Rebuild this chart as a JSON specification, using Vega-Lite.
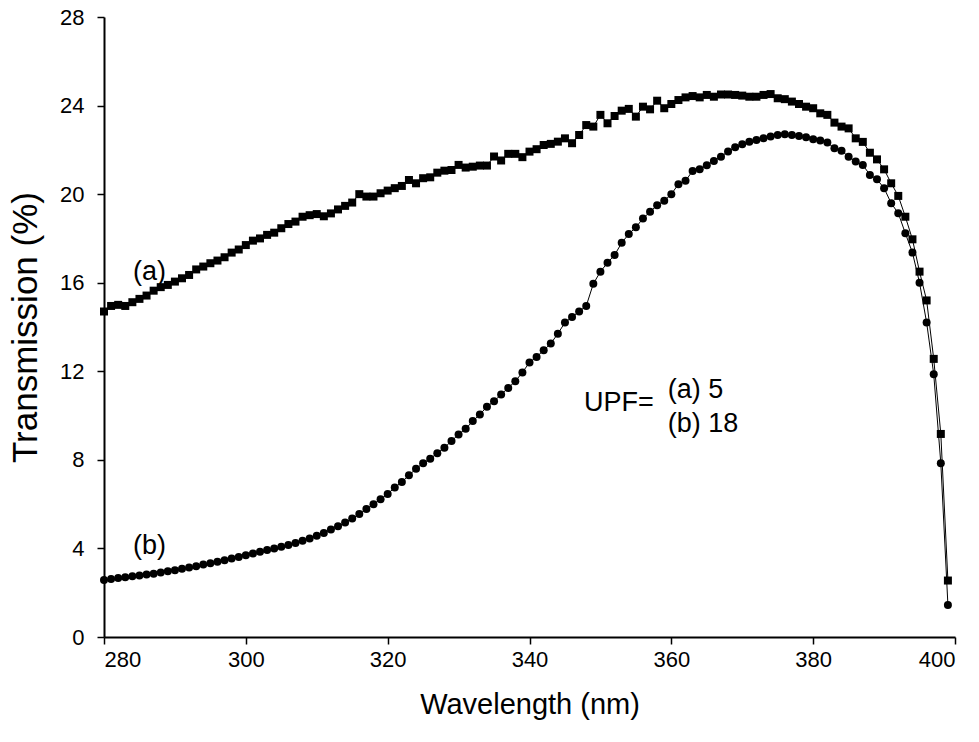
{
  "$schema": "https://vega.github.io/schema/vega-lite/v6.json",
  "width": 851,
  "height": 620,
  "autosize": {"type": "none"},
  "padding": {"left": 104, "top": 17, "right": 24, "bottom": 105},
  "background": "white",
  "config": {
    "view": {"stroke": null},
    "font": "Liberation Sans",
    "axis": {
      "grid": false,
      "domainColor": "black",
      "domainWidth": 2,
      "tickColor": "black",
      "tickWidth": 1.5,
      "tickSize": 7,
      "labelFont": "Liberation Sans",
      "labelFontSize": 22,
      "labelColor": "black",
      "titleFont": "Liberation Sans",
      "titleFontWeight": "normal",
      "titleColor": "black"
    }
  },
  "datasets": {
    "spectra": [
      {"sample":"a","wl":280,"t":14.7},{"sample":"a","wl":281,"t":14.95},{"sample":"a","wl":282,"t":15.0},{"sample":"a","wl":283,"t":14.95},{"sample":"a","wl":284,"t":15.12},{"sample":"a","wl":285,"t":15.27},{"sample":"a","wl":286,"t":15.42},{"sample":"a","wl":287,"t":15.64},{"sample":"a","wl":288,"t":15.8},{"sample":"a","wl":289,"t":15.9},
      {"sample":"a","wl":290,"t":16.05},{"sample":"a","wl":291,"t":16.2},{"sample":"a","wl":292,"t":16.35},{"sample":"a","wl":293,"t":16.6},{"sample":"a","wl":294,"t":16.73},{"sample":"a","wl":295,"t":16.88},{"sample":"a","wl":296,"t":17.0},{"sample":"a","wl":297,"t":17.15},{"sample":"a","wl":298,"t":17.36},{"sample":"a","wl":299,"t":17.5},
      {"sample":"a","wl":300,"t":17.7},{"sample":"a","wl":301,"t":17.9},{"sample":"a","wl":302,"t":18.0},{"sample":"a","wl":303,"t":18.16},{"sample":"a","wl":304,"t":18.26},{"sample":"a","wl":305,"t":18.46},{"sample":"a","wl":306,"t":18.65},{"sample":"a","wl":307,"t":18.76},{"sample":"a","wl":308,"t":18.98},{"sample":"a","wl":309,"t":19.05},
      {"sample":"a","wl":310,"t":19.1},{"sample":"a","wl":311,"t":19.0},{"sample":"a","wl":312,"t":19.13},{"sample":"a","wl":313,"t":19.31},{"sample":"a","wl":314,"t":19.47},{"sample":"a","wl":315,"t":19.62},{"sample":"a","wl":316,"t":20.0},{"sample":"a","wl":317,"t":19.89},{"sample":"a","wl":318,"t":19.89},{"sample":"a","wl":319,"t":20.04},
      {"sample":"a","wl":320,"t":20.16},{"sample":"a","wl":321,"t":20.27},{"sample":"a","wl":322,"t":20.37},{"sample":"a","wl":323,"t":20.64},{"sample":"a","wl":324,"t":20.49},{"sample":"a","wl":325,"t":20.72},{"sample":"a","wl":326,"t":20.76},{"sample":"a","wl":327,"t":20.97},{"sample":"a","wl":328,"t":21.06},{"sample":"a","wl":329,"t":21.09},
      {"sample":"a","wl":330,"t":21.32},{"sample":"a","wl":331,"t":21.2},{"sample":"a","wl":332,"t":21.24},{"sample":"a","wl":333,"t":21.29},{"sample":"a","wl":334,"t":21.29},{"sample":"a","wl":335,"t":21.7},{"sample":"a","wl":336,"t":21.52},{"sample":"a","wl":337,"t":21.82},{"sample":"a","wl":338,"t":21.82},{"sample":"a","wl":339,"t":21.67},
      {"sample":"a","wl":340,"t":21.92},{"sample":"a","wl":341,"t":22.03},{"sample":"a","wl":342,"t":22.22},{"sample":"a","wl":343,"t":22.27},{"sample":"a","wl":344,"t":22.37},{"sample":"a","wl":345,"t":22.52},{"sample":"a","wl":346,"t":22.3},{"sample":"a","wl":347,"t":22.67},{"sample":"a","wl":348,"t":23.12},{"sample":"a","wl":349,"t":23.05},
      {"sample":"a","wl":350,"t":23.58},{"sample":"a","wl":351,"t":23.2},{"sample":"a","wl":352,"t":23.53},{"sample":"a","wl":353,"t":23.77},{"sample":"a","wl":354,"t":23.85},{"sample":"a","wl":355,"t":23.5},{"sample":"a","wl":356,"t":23.95},{"sample":"a","wl":357,"t":23.83},{"sample":"a","wl":358,"t":24.22},{"sample":"a","wl":359,"t":23.88},
      {"sample":"a","wl":360,"t":24.07},{"sample":"a","wl":361,"t":24.25},{"sample":"a","wl":362,"t":24.37},{"sample":"a","wl":363,"t":24.43},{"sample":"a","wl":364,"t":24.37},{"sample":"a","wl":365,"t":24.48},{"sample":"a","wl":366,"t":24.4},{"sample":"a","wl":367,"t":24.5},{"sample":"a","wl":368,"t":24.5},{"sample":"a","wl":369,"t":24.48},
      {"sample":"a","wl":370,"t":24.45},{"sample":"a","wl":371,"t":24.4},{"sample":"a","wl":372,"t":24.4},{"sample":"a","wl":373,"t":24.48},{"sample":"a","wl":374,"t":24.52},{"sample":"a","wl":375,"t":24.33},{"sample":"a","wl":376,"t":24.29},{"sample":"a","wl":377,"t":24.18},{"sample":"a","wl":378,"t":24.07},{"sample":"a","wl":379,"t":23.95},
      {"sample":"a","wl":380,"t":23.88},{"sample":"a","wl":381,"t":23.65},{"sample":"a","wl":382,"t":23.58},{"sample":"a","wl":383,"t":23.23},{"sample":"a","wl":384,"t":23.05},{"sample":"a","wl":385,"t":22.97},{"sample":"a","wl":386,"t":22.52},{"sample":"a","wl":387,"t":22.36},{"sample":"a","wl":388,"t":21.87},{"sample":"a","wl":389,"t":21.57},
      {"sample":"a","wl":390,"t":21.12},{"sample":"a","wl":391,"t":20.49},{"sample":"a","wl":392,"t":19.92},{"sample":"a","wl":393,"t":18.98},{"sample":"a","wl":394,"t":17.96},{"sample":"a","wl":395,"t":16.5},{"sample":"a","wl":396,"t":15.2},{"sample":"a","wl":397,"t":12.56},{"sample":"a","wl":398,"t":9.17},{"sample":"a","wl":399,"t":2.55},
      {"sample":"b","wl":280,"t":2.57},{"sample":"b","wl":281,"t":2.62},{"sample":"b","wl":282,"t":2.66},{"sample":"b","wl":283,"t":2.7},{"sample":"b","wl":284,"t":2.74},{"sample":"b","wl":285,"t":2.78},{"sample":"b","wl":286,"t":2.82},{"sample":"b","wl":287,"t":2.86},{"sample":"b","wl":288,"t":2.91},{"sample":"b","wl":289,"t":2.97},
      {"sample":"b","wl":290,"t":3.02},{"sample":"b","wl":291,"t":3.08},{"sample":"b","wl":292,"t":3.14},{"sample":"b","wl":293,"t":3.2},{"sample":"b","wl":294,"t":3.27},{"sample":"b","wl":295,"t":3.33},{"sample":"b","wl":296,"t":3.4},{"sample":"b","wl":297,"t":3.47},{"sample":"b","wl":298,"t":3.54},{"sample":"b","wl":299,"t":3.61},
      {"sample":"b","wl":300,"t":3.69},{"sample":"b","wl":301,"t":3.77},{"sample":"b","wl":302,"t":3.85},{"sample":"b","wl":303,"t":3.93},{"sample":"b","wl":304,"t":4.0},{"sample":"b","wl":305,"t":4.08},{"sample":"b","wl":306,"t":4.16},{"sample":"b","wl":307,"t":4.25},{"sample":"b","wl":308,"t":4.35},{"sample":"b","wl":309,"t":4.45},
      {"sample":"b","wl":310,"t":4.57},{"sample":"b","wl":311,"t":4.7},{"sample":"b","wl":312,"t":4.85},{"sample":"b","wl":313,"t":5.0},{"sample":"b","wl":314,"t":5.17},{"sample":"b","wl":315,"t":5.35},{"sample":"b","wl":316,"t":5.55},{"sample":"b","wl":317,"t":5.78},{"sample":"b","wl":318,"t":6.0},{"sample":"b","wl":319,"t":6.22},
      {"sample":"b","wl":320,"t":6.46},{"sample":"b","wl":321,"t":6.75},{"sample":"b","wl":322,"t":7.0},{"sample":"b","wl":323,"t":7.3},{"sample":"b","wl":324,"t":7.6},{"sample":"b","wl":325,"t":7.85},{"sample":"b","wl":326,"t":8.05},{"sample":"b","wl":327,"t":8.3},{"sample":"b","wl":328,"t":8.55},{"sample":"b","wl":329,"t":8.85},
      {"sample":"b","wl":330,"t":9.15},{"sample":"b","wl":331,"t":9.4},{"sample":"b","wl":332,"t":9.75},{"sample":"b","wl":333,"t":10.05},{"sample":"b","wl":334,"t":10.4},{"sample":"b","wl":335,"t":10.65},{"sample":"b","wl":336,"t":10.95},{"sample":"b","wl":337,"t":11.25},{"sample":"b","wl":338,"t":11.55},{"sample":"b","wl":339,"t":11.95},
      {"sample":"b","wl":340,"t":12.4},{"sample":"b","wl":341,"t":12.65},{"sample":"b","wl":342,"t":12.95},{"sample":"b","wl":343,"t":13.25},{"sample":"b","wl":344,"t":13.7},{"sample":"b","wl":345,"t":14.2},{"sample":"b","wl":346,"t":14.45},{"sample":"b","wl":347,"t":14.7},{"sample":"b","wl":348,"t":14.95},{"sample":"b","wl":349,"t":15.95},
      {"sample":"b","wl":350,"t":16.5},{"sample":"b","wl":351,"t":16.9},{"sample":"b","wl":352,"t":17.25},{"sample":"b","wl":353,"t":17.8},{"sample":"b","wl":354,"t":18.2},{"sample":"b","wl":355,"t":18.5},{"sample":"b","wl":356,"t":18.9},{"sample":"b","wl":357,"t":19.2},{"sample":"b","wl":358,"t":19.5},{"sample":"b","wl":359,"t":19.7},
      {"sample":"b","wl":360,"t":20.0},{"sample":"b","wl":361,"t":20.45},{"sample":"b","wl":362,"t":20.6},{"sample":"b","wl":363,"t":21.05},{"sample":"b","wl":364,"t":21.12},{"sample":"b","wl":365,"t":21.3},{"sample":"b","wl":366,"t":21.5},{"sample":"b","wl":367,"t":21.69},{"sample":"b","wl":368,"t":21.93},{"sample":"b","wl":369,"t":22.12},
      {"sample":"b","wl":370,"t":22.25},{"sample":"b","wl":371,"t":22.37},{"sample":"b","wl":372,"t":22.45},{"sample":"b","wl":373,"t":22.52},{"sample":"b","wl":374,"t":22.6},{"sample":"b","wl":375,"t":22.67},{"sample":"b","wl":376,"t":22.7},{"sample":"b","wl":377,"t":22.67},{"sample":"b","wl":378,"t":22.63},{"sample":"b","wl":379,"t":22.57},
      {"sample":"b","wl":380,"t":22.48},{"sample":"b","wl":381,"t":22.42},{"sample":"b","wl":382,"t":22.33},{"sample":"b","wl":383,"t":22.07},{"sample":"b","wl":384,"t":21.96},{"sample":"b","wl":385,"t":21.69},{"sample":"b","wl":386,"t":21.47},{"sample":"b","wl":387,"t":21.32},{"sample":"b","wl":388,"t":20.87},{"sample":"b","wl":389,"t":20.67},
      {"sample":"b","wl":390,"t":20.27},{"sample":"b","wl":391,"t":19.59},{"sample":"b","wl":392,"t":19.14},{"sample":"b","wl":393,"t":18.23},{"sample":"b","wl":394,"t":17.36},{"sample":"b","wl":395,"t":16.0},{"sample":"b","wl":396,"t":14.2},{"sample":"b","wl":397,"t":11.87},{"sample":"b","wl":398,"t":7.85},{"sample":"b","wl":399,"t":1.45}
    ],
    "notes": [
      {"wl":284.1,"t":16.5,"label":"(a)"},
      {"wl":284.1,"t":4.1,"label":"(b)"},
      {"wl":347.7,"t":10.55,"label":"UPF="},
      {"wl":359.5,"t":11.15,"label":"(a) 5"},
      {"wl":359.5,"t":9.62,"label":"(b) 18"}
    ]
  },
  "layer": [
    {
      "data": {"name": "spectra"},
      "mark": {"type": "line", "color": "black", "strokeWidth": 1},
      "encoding": {
        "x": {"field": "wl", "type": "quantitative", "scale": {"domain": [280, 400], "nice": false, "zero": false},
              "axis": {"values": [280, 300, 320, 340, 360, 380, 400], "title": "Wavelength (nm)", "titleFontSize": 29, "labelPadding": 5, "titlePadding": 20}},
        "y": {"field": "t", "type": "quantitative", "scale": {"domain": [0, 28], "nice": false},
              "axis": {"values": [0, 4, 8, 12, 16, 20, 24, 28], "title": "Transmission (%)", "titleFontSize": 35, "labelPadding": 13, "titlePadding": 16}},
        "detail": {"field": "sample"}
      }
    },
    {
      "data": {"name": "spectra"},
      "mark": {"type": "point", "filled": true, "color": "black", "opacity": 1, "size": 64},
      "encoding": {
        "x": {"field": "wl", "type": "quantitative"},
        "y": {"field": "t", "type": "quantitative"},
        "shape": {"field": "sample", "type": "nominal", "scale": {"domain": ["a", "b"], "range": ["square", "circle"]}, "legend": null}
      }
    },
    {
      "data": {"name": "notes"},
      "mark": {"type": "text", "align": "left", "baseline": "middle", "fontSize": 27, "font": "Liberation Sans", "color": "black"},
      "encoding": {
        "x": {"field": "wl", "type": "quantitative"},
        "y": {"field": "t", "type": "quantitative"},
        "text": {"field": "label"}
      }
    }
  ]
}
